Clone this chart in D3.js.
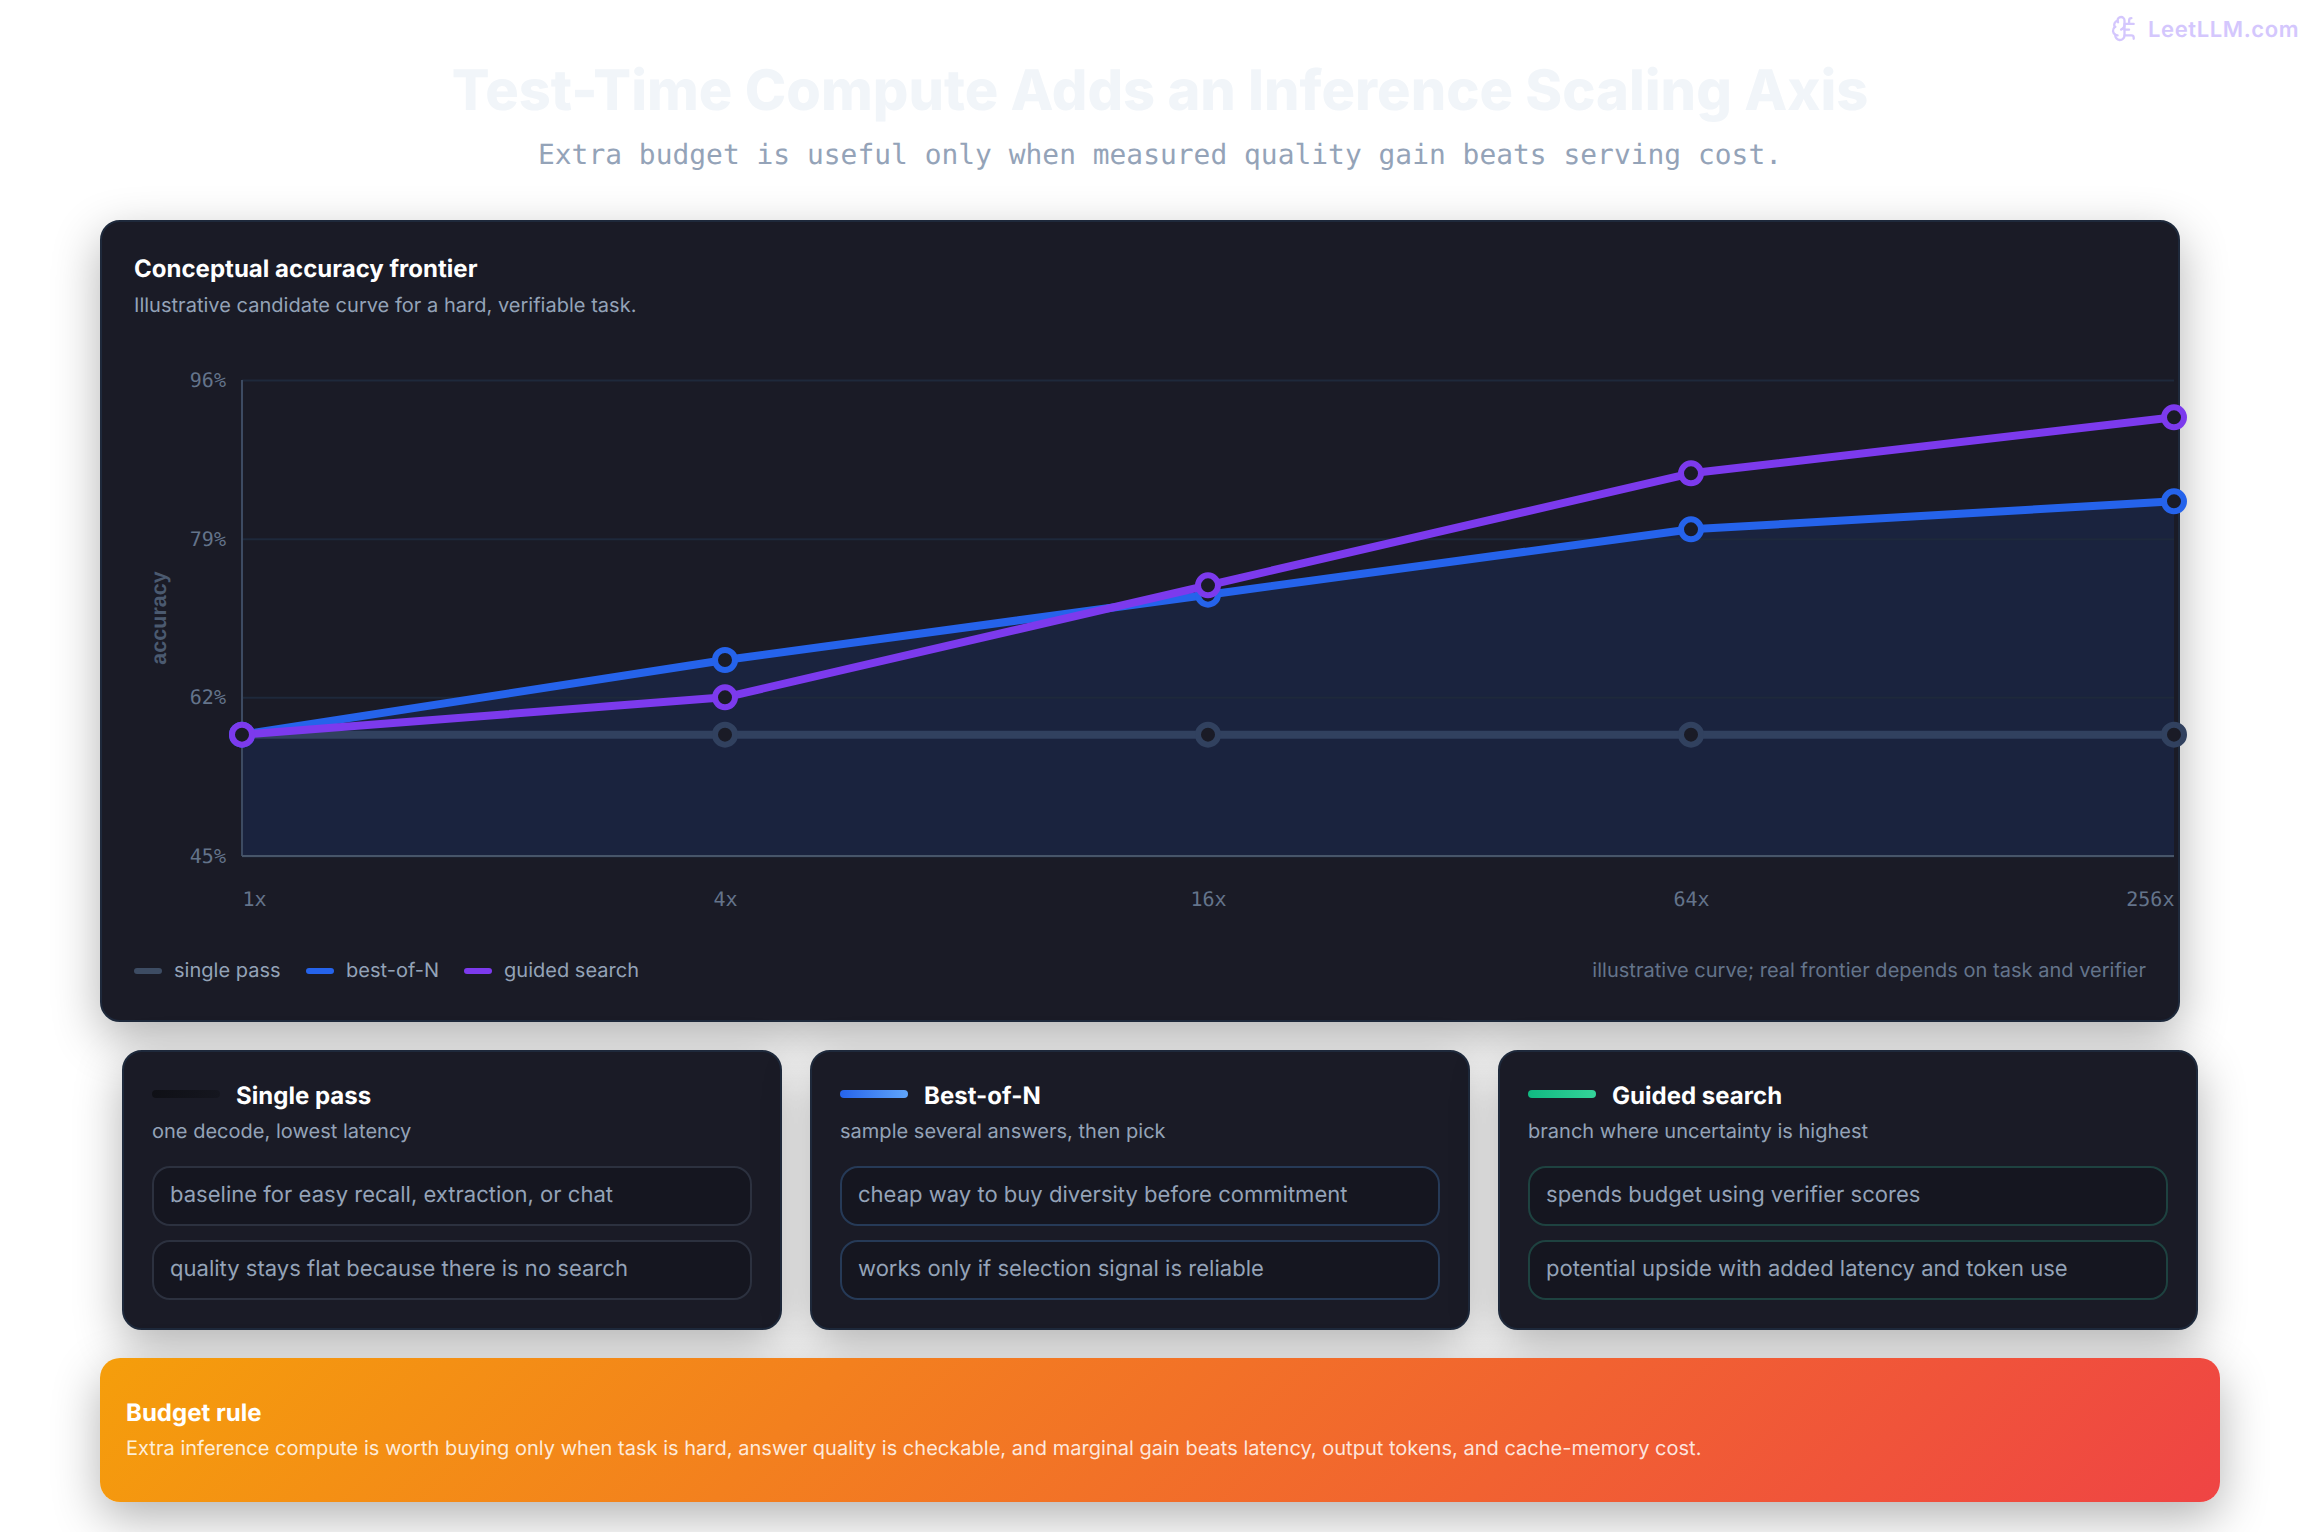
<!DOCTYPE html>
<html>
<head>
<meta charset="utf-8">
<script src="https://cdn.jsdelivr.net/npm/d3@7"></script>
<style>
html,body{margin:0;padding:0;background:#fff;width:2320px;height:1532px;overflow:hidden;font-family:Inter,sans-serif;text-rendering:geometricPrecision;letter-spacing:.02px}
#stage{position:relative;width:2320px;height:1532px}
.t{position:absolute;white-space:nowrap;transform:translateY(-50%);line-height:1.2}
.box{position:absolute;box-sizing:border-box}
.panel{background:#1a1b26;border:2px solid #1e293b;border-radius:20px;box-shadow:0 16px 48px rgba(0,0,0,.3)}
svg{position:absolute;left:0;top:0;overflow:visible}
</style>
</head>
<body>
<div id="stage"></div>
<script>
// Compute budgets and accuracy estimates for each strategy
const budgets = ["1x", "4x", "16x", "64x", "256x"];
const singlePass = [58, 58, 58, 58, 58];
const bestOfN = [58, 66, 73, 80, 83];
const guidedSearch = [58, 62, 74, 86, 92];
const accuracyTicks = [45, 62, 79, 96];

const seriesNames = ["single pass", "best-of-N", "guided search"];
const seriesColors = ["#31415f", "#2563eb", "#7c3aed"];
const legendColors = ["#3d4c63", "#2563eb", "#7c3aed"];

const cardTitles = ["Single pass", "Best-of-N", "Guided search"];
const cardSubtitles = ["one decode, lowest latency", "sample several answers, then pick", "branch where uncertainty is highest"];
const cardNotes = [
  ["baseline for easy recall, extraction, or chat", "quality stays flat because there is no search"],
  ["cheap way to buy diversity before commitment", "works only if selection signal is reliable"],
  ["spends budget using verifier scores", "potential upside with added latency and token use"]
];
const cardLefts = [122, 810, 1498];
const cardWidths = [660, 660, 700];
const cardBars = [["#0f1016", "#15161f"], ["#2563eb", "#60a5fa"], ["#10b981", "#34d399"]];
const cardBorders = ["#2c313f", "#263a57", "#1e4240"];

const stage = d3.select("#stage");
const text = (s, x, y, style) => {
  const el = stage.append("div").attr("class", "t").text(s).style("left", x + "px").style("top", y + "px");
  Object.entries(style).forEach(([k, v]) => el.style(k, v));
  return el;
};
const mono = "'DejaVu Sans Mono',monospace";

// Header
text("Test-Time Compute Adds an Inference Scaling Axis", 0, 91, {
  width: "2320px", "text-align": "center", "font-size": "55.9px", "font-weight": 800, color: "#f1f5f9"
});
text("Extra budget is useful only when measured quality gain beats serving cost.", 0, 155, {
  width: "2320px", "text-align": "center", "font-size": "27.9px", "font-family": mono, color: "#94a3b8"
});

// Top panel
stage.append("div").attr("class", "box panel").style("left", "100px").style("top", "220px").style("width", "2080px").style("height", "802px");
text("Conceptual accuracy frontier", 134, 269, {"font-size": "24px", "font-weight": 700, color: "#fff"});
text("Illustrative candidate curve for a hard, verifiable task.", 134, 305, {"font-size": "20px", color: "#94a3b8"});

// Chart
const svg = stage.append("svg").attr("width", 2320).attr("height", 1532);
const x = d3.scalePoint().domain(budgets).range([242, 2174]);
const y = d3.scaleLinear().domain([45, 96]).range([856, 380]);

svg.append("path")
  .attr("fill", "#2563eb").attr("fill-opacity", 0.12)
  .attr("d", d3.area().x((d, i) => x(budgets[i])).y0(y(45)).y1(d => y(d))(bestOfN));

const yAxis = svg.append("g").attr("transform", `translate(${x(budgets[0])},0)`)
  .call(d3.axisLeft(y).tickValues(accuracyTicks).tickFormat(d => d + "%").tickSize(-(x.range()[1] - x.range()[0])).tickPadding(16));
yAxis.select(".domain").remove();
yAxis.selectAll(".tick line").attr("stroke", "#1e293b").attr("stroke-width", 2);
yAxis.selectAll(".tick text").attr("fill", "#64748b").attr("font-family", mono).attr("font-size", 20).attr("dy", "0.32em");

const xAxis = svg.append("g").attr("transform", `translate(0,${y(45)})`)
  .call(d3.axisBottom(x).tickSize(0).tickPadding(36));
xAxis.select(".domain").remove();
xAxis.selectAll(".tick text").attr("fill", "#64748b").attr("font-family", mono).attr("font-size", 20)
  .attr("text-anchor", (d, i) => i === 0 ? "start" : i === budgets.length - 1 ? "end" : "middle");

svg.append("line").attr("x1", x.range()[0]).attr("x2", x.range()[0]).attr("y1", y(96)).attr("y2", y(45)).attr("stroke", "#3d4b62").attr("stroke-width", 2);
svg.append("line").attr("x1", x.range()[0]).attr("x2", x.range()[1]).attr("y1", y(45)).attr("y2", y(45)).attr("stroke", "#475569").attr("stroke-width", 2);

svg.append("text").attr("transform", `translate(166,${(y(96) + y(45)) / 2}) rotate(-90)`)
  .attr("text-anchor", "middle").attr("fill", "#4b5a70").attr("font-family", "'Liberation Sans',sans-serif")
  .attr("font-weight", 700).attr("font-size", 21.5).text("accuracy");

const line = d3.line().x((d, i) => x(budgets[i])).y(d => y(d));
[singlePass, bestOfN, guidedSearch].forEach((values, s) => {
  svg.append("path").attr("d", line(values)).attr("fill", "none")
    .attr("stroke", seriesColors[s]).attr("stroke-width", 8).attr("stroke-linejoin", "round");
  svg.append("g").selectAll("circle").data(values).join("circle")
    .attr("cx", (d, i) => x(budgets[i])).attr("cy", d => y(d)).attr("r", 10)
    .attr("fill", "#1a1b26").attr("stroke", seriesColors[s]).attr("stroke-width", 6);
});

// Legend
const legendSwatchX = [134, 306, 464];
const legendTextX = [174, 346, 504];
seriesNames.forEach((name, i) => {
  stage.append("div").attr("class", "box").style("left", legendSwatchX[i] + "px").style("top", "968px")
    .style("width", "28px").style("height", "6px").style("border-radius", "3px").style("background", legendColors[i]);
  text(name, legendTextX[i], 970, {"font-size": "20px", color: "#94a3b8"});
});
text("illustrative curve; real frontier depends on task and verifier", 0, 970, {
  "font-size": "20px", color: "#64748b", width: "2146px", "text-align": "right"
});

// Strategy cards
cardTitles.forEach((title, i) => {
  const left = cardLefts[i], inner = left + 30, w = cardWidths[i];
  stage.append("div").attr("class", "box panel").style("left", left + "px").style("top", "1050px")
    .style("width", w + "px").style("height", "280px");
  stage.append("div").attr("class", "box").style("left", inner + "px").style("top", "1090px")
    .style("width", "68px").style("height", "8px").style("border-radius", "4px")
    .style("background", `linear-gradient(90deg,${cardBars[i][0]},${cardBars[i][1]})`);
  text(title, inner + 84, 1096, {"font-size": "24px", "font-weight": 700, color: "#fff"});
  text(cardSubtitles[i], inner, 1131, {"font-size": "20px", color: "#94a3b8"});
  cardNotes[i].forEach((note, j) => {
    const top = 1166 + j * 74;
    stage.append("div").attr("class", "box").style("left", inner + "px").style("top", top + "px")
      .style("width", (w - 60) + "px").style("height", "60px").style("border-radius", "18px")
      .style("background", "#151620").style("border", `2px solid ${cardBorders[i]}`);
    text(note, inner + 18, top + 29, {"font-size": "22px", color: "#94a3b8"});
  });
});

// Budget rule banner
stage.append("div").attr("class", "box").style("left", "100px").style("top", "1358px")
  .style("width", "2120px").style("height", "144px").style("border-radius", "20px")
  .style("background", "linear-gradient(135deg,#f59e0b,#ef4444)").style("box-shadow", "0 16px 48px rgba(0,0,0,.3)");
text("Budget rule", 126, 1413, {"font-size": "24px", "font-weight": 700, color: "#fff"});
text("Extra inference compute is worth buying only when task is hard, answer quality is checkable, and marginal gain beats latency, output tokens, and cache-memory cost.", 126, 1448, {
  "font-size": "20px", color: "rgba(255,255,255,.85)"
});

// Site mark
const mark = svg.append("g").attr("transform", "translate(2110.7,14.7) scale(1.15)").attr("fill", "none")
  .attr("stroke", "#d4c7fd").attr("stroke-width", 2).attr("stroke-linecap", "round").attr("stroke-linejoin", "round");
["M12 5a3 3 0 1 0-5.997.125 4 4 0 0 0-2.526 5.77 4 4 0 0 0 .556 6.588A4 4 0 1 0 12 18Z",
 "M9 13a4.5 4.5 0 0 0 3-4", "M6.003 5.125A3 3 0 0 0 6.401 6.5", "M3.477 10.896a4 4 0 0 1 .585-.396",
 "M6 18a4 4 0 0 1-1.967-.516", "M12 13h4", "M12 18h6a2 2 0 0 1 2 2v1", "M12 8h8", "M16 8V5a2 2 0 0 1 2-2"
].forEach(d => mark.append("path").attr("d", d));
text("LeetLLM.com", 2148, 30, {"font-size": "22px", "font-weight": 600, color: "#d4c7fd", "letter-spacing": "0.6px"});
</script>
</body>
</html>
